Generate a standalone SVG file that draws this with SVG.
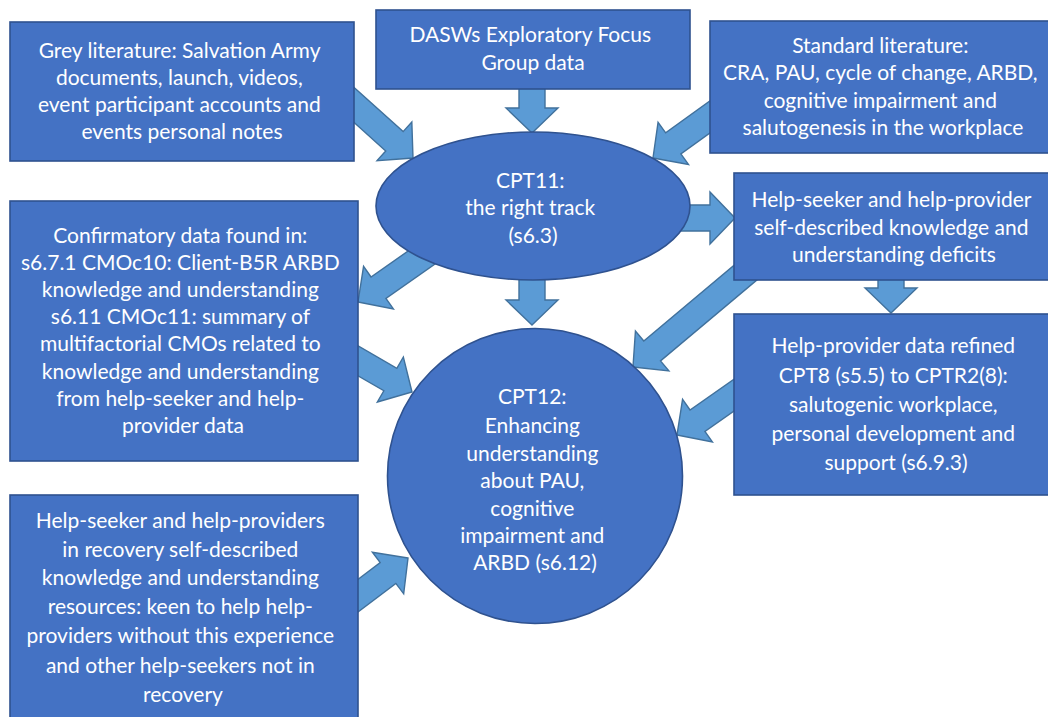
<svg xmlns="http://www.w3.org/2000/svg" width="1048" height="717" viewBox="0 0 1048 717">
  <style>
    .node { fill: #4472C4; stroke: #2F528F; stroke-width: 1.6; }
    .arrow { fill: #5B9BD5; stroke: #41719C; stroke-width: 1.4; stroke-linejoin: miter; }
    .label { font-family: Lato, "Open Sans", "Liberation Sans", sans-serif; font-size: 21px; fill: #FFFFFF; text-anchor: middle; }
  </style>
  <defs>
    <!-- block arrows: tip at origin, pointing along +x; shaft 26, head 52 wide, 25 long -->
    <polygon id="arr50" points="0,0 -25,-26 -25,-13 -50,-13 -50,13 -25,13 -25,26"/>
    <polygon id="arr60" points="0,0 -25,-26 -25,-13 -60,-13 -60,13 -25,13 -25,26"/>
    <polygon id="arr40" points="0,0 -25,-26 -25,-13 -40,-13 -40,13 -25,13 -25,26"/>
    <polygon id="arr80" points="0,0 -25,-26 -25,-13 -80,-13 -80,13 -25,13 -25,26"/>
    <polygon id="arr90" points="0,0 -25,-26 -25,-13 -90,-13 -90,13 -25,13 -25,26"/>
    <polygon id="arr100" points="0,0 -25,-26 -25,-13 -100,-13 -100,13 -25,13 -25,26"/>
    <polygon id="arr160" points="0,0 -25,-26 -25,-13 -160,-13 -160,13 -25,13 -25,26"/>
  </defs>
  <rect width="1048" height="717" fill="#FFFFFF"/>

  <g id="connectors" class="arrow">
    <!-- grey literature -> CPT11 -->
    <use href="#arr100" transform="translate(413,158) rotate(42)"/>
    <!-- focus group -> CPT11 -->
    <use href="#arr50" transform="translate(532,133) rotate(90)"/>
    <!-- standard literature -> CPT11 -->
    <use href="#arr100" transform="translate(653,158) rotate(144.2)"/>
    <!-- CPT11 -> deficits -->
    <use href="#arr60" transform="translate(735,218) rotate(0)"/>
    <!-- CPT11 -> confirmatory data -->
    <use href="#arr90" transform="translate(358,302) rotate(145)"/>
    <!-- CPT11 -> CPT12 -->
    <use href="#arr60" transform="translate(532,325) rotate(90)"/>
    <!-- confirmatory data -> CPT12 -->
    <use href="#arr90" transform="translate(412,392) rotate(30)"/>
    <!-- recovery resources -> CPT12 -->
    <use href="#arr80" transform="translate(408,558) rotate(-37)"/>
    <!-- deficits -> CPT12 -->
    <use href="#arr160" transform="translate(633,367) rotate(140)"/>
    <!-- refined help-provider data -> CPT12 -->
    <use href="#arr90" transform="translate(677,435) rotate(145)"/>
    <!-- deficits -> refined help-provider data -->
    <use href="#arr40" transform="translate(891,313) rotate(90)"/>
  </g>

  <g id="grey-literature">
    <rect class="node" x="10" y="22" width="344" height="139"/>
    <text class="label">
      <tspan x="182" y="58">Grey literature: Salvation Army</tspan>
      <tspan x="182" y="85">documents, launch, videos,</tspan>
      <tspan x="182" y="112">event participant accounts and</tspan>
      <tspan x="182" y="139">events personal notes</tspan>
    </text>
  </g>

  <g id="focus-group">
    <rect class="node" x="376" y="10" width="314" height="79"/>
    <text class="label">
      <tspan x="533" y="42">DASWs Exploratory Focus</tspan>
      <tspan x="533" y="70">Group data</tspan>
    </text>
  </g>

  <g id="standard-literature">
    <rect class="node" x="710" y="21" width="350" height="132"/>
    <text class="label">
      <tspan x="883" y="53">Standard literature:</tspan>
      <tspan x="883" y="80">CRA, PAU, cycle of change, ARBD,</tspan>
      <tspan x="883" y="108">cognitive impairment and</tspan>
      <tspan x="883" y="135">salutogenesis in the workplace</tspan>
    </text>
  </g>

  <g id="cpt11">
    <ellipse class="node" cx="533" cy="206" rx="157" ry="74"/>
    <text class="label">
      <tspan x="533" y="188">CPT11:</tspan>
      <tspan x="533" y="215">the right track</tspan>
      <tspan x="533" y="243">(s6.3)</tspan>
    </text>
  </g>

  <g id="deficits">
    <rect class="node" x="734" y="173" width="326" height="107"/>
    <text class="label">
      <tspan x="894" y="207">Help-seeker and help-provider</tspan>
      <tspan x="894" y="235">self-described knowledge and</tspan>
      <tspan x="894" y="262">understanding deficits</tspan>
    </text>
  </g>

  <g id="confirmatory-data">
    <rect class="node" x="10" y="201" width="348" height="260"/>
    <text class="label">
      <tspan x="183" y="243">Confirmatory data found in:</tspan>
      <tspan x="183" y="270">s6.7.1 CMOc10: Client-B5R ARBD</tspan>
      <tspan x="183" y="297">knowledge and understanding</tspan>
      <tspan x="183" y="324">s6.11 CMOc11: summary of</tspan>
      <tspan x="183" y="351">multifactorial CMOs related to</tspan>
      <tspan x="183" y="379">knowledge and understanding</tspan>
      <tspan x="183" y="406">from help-seeker and help-</tspan>
      <tspan x="183" y="433">provider data</tspan>
    </text>
  </g>

  <g id="refined-help-provider">
    <rect class="node" x="734" y="314" width="326" height="181"/>
    <text class="label">
      <tspan x="896" y="353">Help-provider data refined</tspan>
      <tspan x="896" y="383">CPT8 (s5.5) to CPTR2(8):</tspan>
      <tspan x="896" y="412">salutogenic workplace,</tspan>
      <tspan x="896" y="441">personal development and</tspan>
      <tspan x="896" y="470">support (s6.9.3)</tspan>
    </text>
  </g>

  <g id="cpt12">
    <circle class="node" cx="535" cy="476" r="147.5"/>
    <text class="label">
      <tspan x="535" y="404">CPT12:</tspan>
      <tspan x="535" y="433">Enhancing</tspan>
      <tspan x="535" y="461">understanding</tspan>
      <tspan x="535" y="488">about PAU,</tspan>
      <tspan x="535" y="516">cognitive</tspan>
      <tspan x="535" y="543">impairment and</tspan>
      <tspan x="535" y="570">ARBD (s6.12)</tspan>
    </text>
  </g>

  <g id="recovery-resources">
    <rect class="node" x="10" y="495" width="348" height="240"/>
    <text class="label">
      <tspan x="183" y="528">Help-seeker and help-providers</tspan>
      <tspan x="183" y="557">in recovery self-described</tspan>
      <tspan x="183" y="585">knowledge and understanding</tspan>
      <tspan x="183" y="614">resources: keen to help help-</tspan>
      <tspan x="183" y="643">providers without this experience</tspan>
      <tspan x="183" y="673">and other help-seekers not in</tspan>
      <tspan x="183" y="702">recovery</tspan>
    </text>
  </g>
</svg>
